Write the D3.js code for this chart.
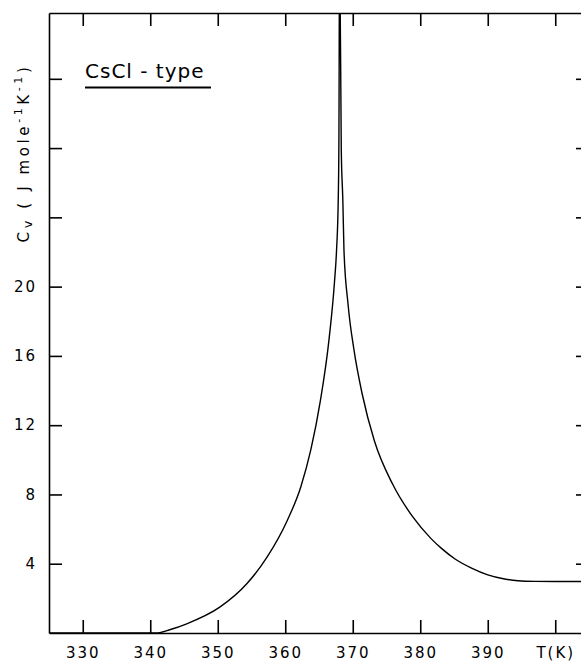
<!DOCTYPE html>
<html>
<head>
<meta charset="utf-8">
<script src="https://cdn.jsdelivr.net/npm/d3@7"></script>
<style>
  body { margin: 0; background: #fff; }
  svg { display: block; font-family: "DejaVu Sans", sans-serif; }
  .axis path, .axis line { stroke: #000; stroke-width: 1.6; }
  .axis text { fill: #000; font-size: 15px; letter-spacing: 2px; }
</style>
</head>
<body>
<svg width="581" height="662"></svg>
<script>
// Cv curve (T in K, Cv in J mole-1 K-1)
var tempK = [325, 340.9, 343.0, 345.4, 350.3, 354.3, 357.3, 360.3, 362.3, 363.8, 365.2,
    366.5, 367.3, 367.6, 367.85, 367.95, 368.05, 368.3, 368.53, 368.7, 369.3, 370.2, 371.4, 373.2,
    375.9, 378.9, 381.6, 383.1, 385.1, 387.6, 390.0, 392.5, 394.5, 397.0, 400.0, 405];
var cvValues = [0, 0, 0.2, 0.53, 1.49, 2.84, 4.38, 6.5, 8.43, 10.6, 13.4,
    17.0, 20.3, 22.1, 25.0, 28.5, 40, 27.9, 25.0, 22.1, 19.0, 16.3, 13.8, 11.1,
    8.6, 6.7, 5.45, 4.9, 4.29, 3.75, 3.36, 3.12, 3.02, 2.98, 2.97, 2.97];

var xTicks = [330, 340, 350, 360, 370, 380, 390, 400];
var yTicks = [4, 8, 12, 16, 20, 24, 28, 32];
var yLabelled = [4, 8, 12, 16, 20];

var svg = d3.select('svg');

// plot frame; right edge sits just past the picture
var frame = {l: 49, r: 589, t: 13, b: 633};

var xScale = d3.scaleLinear()
    .domain([325, 405])
    .range([frame.l, frame.r]);

var yScale = d3.scaleLinear()
    .domain([0, 35.8])
    .range([frame.b, frame.t]);

var tickLen = 13;

svg.append('g')
    .attr('class', 'axis')
    .attr('transform', 'translate(0,' + frame.b + ')')
    .call(d3.axisBottom(xScale).tickValues(xTicks).tickSize(-tickLen).tickSizeOuter(0).tickPadding(14)
        .tickFormat(function(d) { return d === 400 ? 'T(K)' : d; }));

svg.append('g')
    .attr('class', 'axis')
    .attr('transform', 'translate(0,' + frame.t + ')')
    .call(d3.axisTop(xScale).tickValues(xTicks).tickSize(-tickLen).tickSizeOuter(0).tickFormat(''));

svg.append('g')
    .attr('class', 'axis')
    .attr('transform', 'translate(' + frame.l + ',0)')
    .call(d3.axisLeft(yScale).tickValues(yTicks).tickSize(-tickLen).tickSizeOuter(0).tickPadding(12)
        .tickFormat(function(d) { return yLabelled.indexOf(d) >= 0 ? d : ''; }));

svg.append('g')
    .attr('class', 'axis')
    .attr('transform', 'translate(' + frame.r + ',0)')
    .call(d3.axisRight(yScale).tickValues(yTicks).tickSize(-tickLen).tickSizeOuter(0).tickFormat(''));

svg.selectAll('.axis text').attr('font-family', '"DejaVu Sans", sans-serif');

// clip the curve to the frame
svg.append('clipPath')
    .attr('id', 'plotClip')
    .append('rect')
    .attr('x', frame.l)
    .attr('y', frame.t)
    .attr('width', frame.r - frame.l)
    .attr('height', frame.b - frame.t);

var points = tempK.map(function(t, i) { return [t, cvValues[i]]; });

var line = d3.line()
    .x(function(d) { return xScale(d[0]); })
    .y(function(d) { return yScale(d[1]); })
    .curve(d3.curveMonotoneX);

svg.append('path')
    .datum(points)
    .attr('clip-path', 'url(#plotClip)')
    .attr('fill', 'none')
    .attr('stroke', '#000')
    .attr('stroke-width', 1.4)
    .attr('d', line);

// title with underline
svg.append('text')
    .attr('x', 85)
    .attr('y', 78)
    .attr('font-size', 20)
    .attr('letter-spacing', 1)
    .text('CsCl - type');

svg.append('line')
    .attr('x1', 85)
    .attr('x2', 211)
    .attr('y1', 87.5)
    .attr('y2', 87.5)
    .attr('stroke', '#000')
    .attr('stroke-width', 1.8);

// rotated y axis label
var yLabel = svg.append('text')
    .attr('transform', 'translate(29,153) rotate(-90)')
    .attr('text-anchor', 'middle')
    .attr('font-size', 15)
    .attr('letter-spacing', 3.6);

yLabel.append('tspan').text('C');
yLabel.append('tspan').attr('font-size', 13).attr('dy', 3).text('v');
yLabel.append('tspan').attr('dy', -3).text(' ( J mole');
yLabel.append('tspan').attr('font-size', 11).attr('dy', -7).text('-1');
yLabel.append('tspan').attr('dy', 7).text('K');
yLabel.append('tspan').attr('font-size', 11).attr('dy', -7).text('-1');
yLabel.append('tspan').attr('dy', 7).text(')');
</script>
</body>
</html>
